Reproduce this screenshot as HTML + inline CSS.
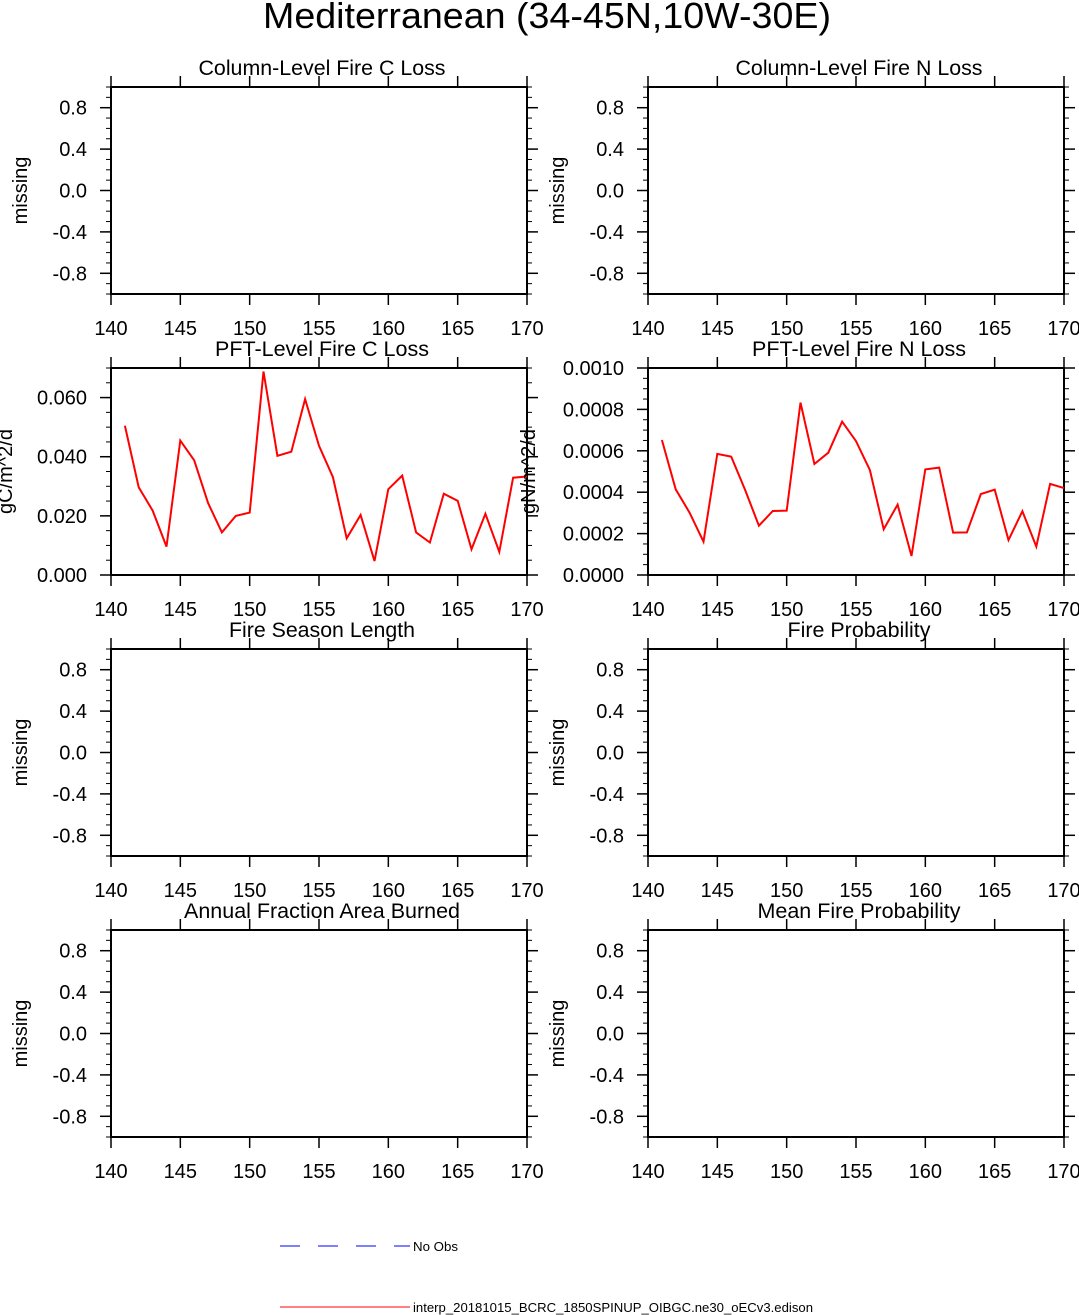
<!DOCTYPE html>
<html><head><meta charset="utf-8"><style>
html,body{margin:0;padding:0;background:#fff;}
svg{display:block;font-family:"Liberation Sans",Arial,sans-serif;}
</style></head><body>
<svg id="fig" width="1079" height="1315" viewBox="0 0 1079 1315" xmlns="http://www.w3.org/2000/svg">
<text x="547" y="28" font-size="36" text-anchor="middle" textLength="568" lengthAdjust="spacingAndGlyphs">Mediterranean (34-45N,10W-30E)</text>
<g>
<line x1="280" y1="1246" x2="410" y2="1246" stroke="#0000ff" stroke-width="1" stroke-dasharray="20,18"/>
<text x="413" y="1251" font-size="13" textLength="45" lengthAdjust="spacingAndGlyphs">No Obs</text>
<line x1="280" y1="1307" x2="410" y2="1307" stroke="#ff0000" stroke-width="1"/>
<text x="413" y="1312" font-size="13" textLength="400" lengthAdjust="spacingAndGlyphs">interp_20181015_BCRC_1850SPINUP_OIBGC.ne30_oECv3.edison</text>
</g>
</svg>
<script>
const years = [141,142,143,144,145,146,147,148,149,150,151,152,153,154,155,156,157,158,159,160,161,162,163,164,165,166,167,168,169,170];
const pftC = [0.0505,0.0297,0.0218,0.0096,0.0455,0.0388,0.0243,0.0144,0.0200,0.0211,0.0688,0.0403,0.0417,0.0595,0.0437,0.0331,0.0124,0.0203,0.0047,0.0290,0.0336,0.0144,0.0110,0.0275,0.0251,0.0087,0.0207,0.0078,0.0329,0.0333];
const pftN = [0.000652,0.000414,0.000301,0.000161,0.000585,0.000572,0.000411,0.000238,0.000309,0.000311,0.000833,0.000536,0.000591,0.000741,0.000647,0.000507,0.000221,0.000340,0.000092,0.000510,0.000519,0.000205,0.000206,0.000391,0.000412,0.000169,0.000308,0.000137,0.000440,0.000420];
const xTicks = [140,145,150,155,160,165,170];
const missTicks = ["0.8","0.4","0.0","-0.4","-0.8"];
const cTicks = ["0.000","0.020","0.040","0.060"];
const nTicks = ["0.0000","0.0002","0.0004","0.0006","0.0008","0.0010"];

const NS="http://www.w3.org/2000/svg";
const svg=document.getElementById('fig');
function mk(tag,attrs,parent){const e=document.createElementNS(NS,tag);for(const k in attrs)e.setAttribute(k,attrs[k]);(parent||svg).appendChild(e);return e;}

const panels=[
 {t:"Column-Level Fire C Loss",col:0,row:0,kind:"m",tw:247,nm:"panel-column-fire-c-loss"},
 {t:"Column-Level Fire N Loss",col:1,row:0,kind:"m",tw:247,nm:"panel-column-fire-n-loss"},
 {t:"PFT-Level Fire C Loss",col:0,row:1,kind:"c",tw:214,nm:"panel-pft-fire-c-loss"},
 {t:"PFT-Level Fire N Loss",col:1,row:1,kind:"n",tw:214,nm:"panel-pft-fire-n-loss"},
 {t:"Fire Season Length",col:0,row:2,kind:"m",tw:186,nm:"panel-fire-season-length"},
 {t:"Fire Probability",col:1,row:2,kind:"m",tw:143,nm:"panel-fire-probability"},
 {t:"Annual Fraction Area Burned",col:0,row:3,kind:"m",tw:276,nm:"panel-annual-fraction-area-burned"},
 {t:"Mean Fire Probability",col:1,row:3,kind:"m",tw:203,nm:"panel-mean-fire-probability"}
];
const lefts=[111,648], tops=[87,368,649,930], W=416, H=207;

panels.forEach(p=>{
 const L=lefts[p.col], T=tops[p.row], B=T+H, R=L+W;
 const g=mk('g',{});
 
 
 let ymin,ymax,major,minorStep,labels,ylab;
 if(p.kind==='m'){ymin=-1;ymax=1;major=missTicks.map(Number);minorStep=0.1;labels=missTicks;ylab="missing";}
 else if(p.kind==='c'){ymin=0;ymax=0.07;major=cTicks.map(Number);minorStep=0.005;labels=cTicks;ylab="gC/m^2/d";}
 else {ymin=0;ymax=0.001;major=nTicks.map(Number);minorStep=0.00005;labels=nTicks;ylab="gN/m^2/d";}
 const xs=v=>L+(v-140)/30*W;
 const ys=v=>B-(v-ymin)/(ymax-ymin)*H;
 // minor y ticks
 const nMin=Math.round((ymax-ymin)/minorStep);
 for(let i=0;i<=nMin;i++){const y=ys(ymin+i*minorStep);
  const a=mk('line',{x1:L-5,y1:y,x2:L,y2:y,stroke:'#000','stroke-width':1},g);
  
  
  const b=mk('line',{x1:R,y1:y,x2:R+5,y2:y,stroke:'#000','stroke-width':1},g);
  
  }
 major.forEach((v,i)=>{const y=ys(v);
  const a=mk('line',{x1:L-11,y1:y,x2:L,y2:y,stroke:'#000','stroke-width':1.5},g);
  
  
  const b=mk('line',{x1:R,y1:y,x2:R+11,y2:y,stroke:'#000','stroke-width':1.5},g);
  
  
  const t=mk('text',{x:L-24,y:y+7,'font-size':20,'text-anchor':'end'},g);
  t.textContent=labels[i];
  
  });
 xTicks.forEach(v=>{const x=xs(v);
  const a=mk('line',{x1:x,y1:T-11,x2:x,y2:T,stroke:'#000','stroke-width':1.5},g);
  
  
  const b=mk('line',{x1:x,y1:B,x2:x,y2:B+11,stroke:'#000','stroke-width':1.5},g);
  
  
  const t=mk('text',{x:x,y:B+41,'font-size':20,'text-anchor':'middle'},g);
  t.textContent=v;
  
  });
 const fr=mk('rect',{x:L,y:T,width:W,height:H,fill:'none',stroke:'#000','stroke-width':2},g);
 
 
 const ti=mk('text',{x:L+W/2+3,y:T-12,'font-size':21,'text-anchor':'middle',textLength:p.tw,lengthAdjust:'spacingAndGlyphs'},g);
 ti.textContent=p.t;
 
 
 const yx=p.kind==='m'?L-84:(p.kind==='c'?L-99:L-113);
 const yl=mk('text',{x:yx,y:T+H/2,'font-size':20,'text-anchor':'middle',transform:`rotate(-90 ${yx} ${T+H/2})`},g);
 yl.textContent=ylab;
 
 
 if(p.kind!=='m'){
  const vals=p.kind==='c'?pftC:pftN;
  const pts=years.map((yr,i)=>xs(yr).toFixed(1)+','+ys(vals[i]).toFixed(1)).join(' ');
  const pl=mk('polyline',{points:pts,fill:'none',stroke:'#ff0000','stroke-width':2,'stroke-linejoin':'miter'},g);
  
  
 }
});
</script>
</body></html>
